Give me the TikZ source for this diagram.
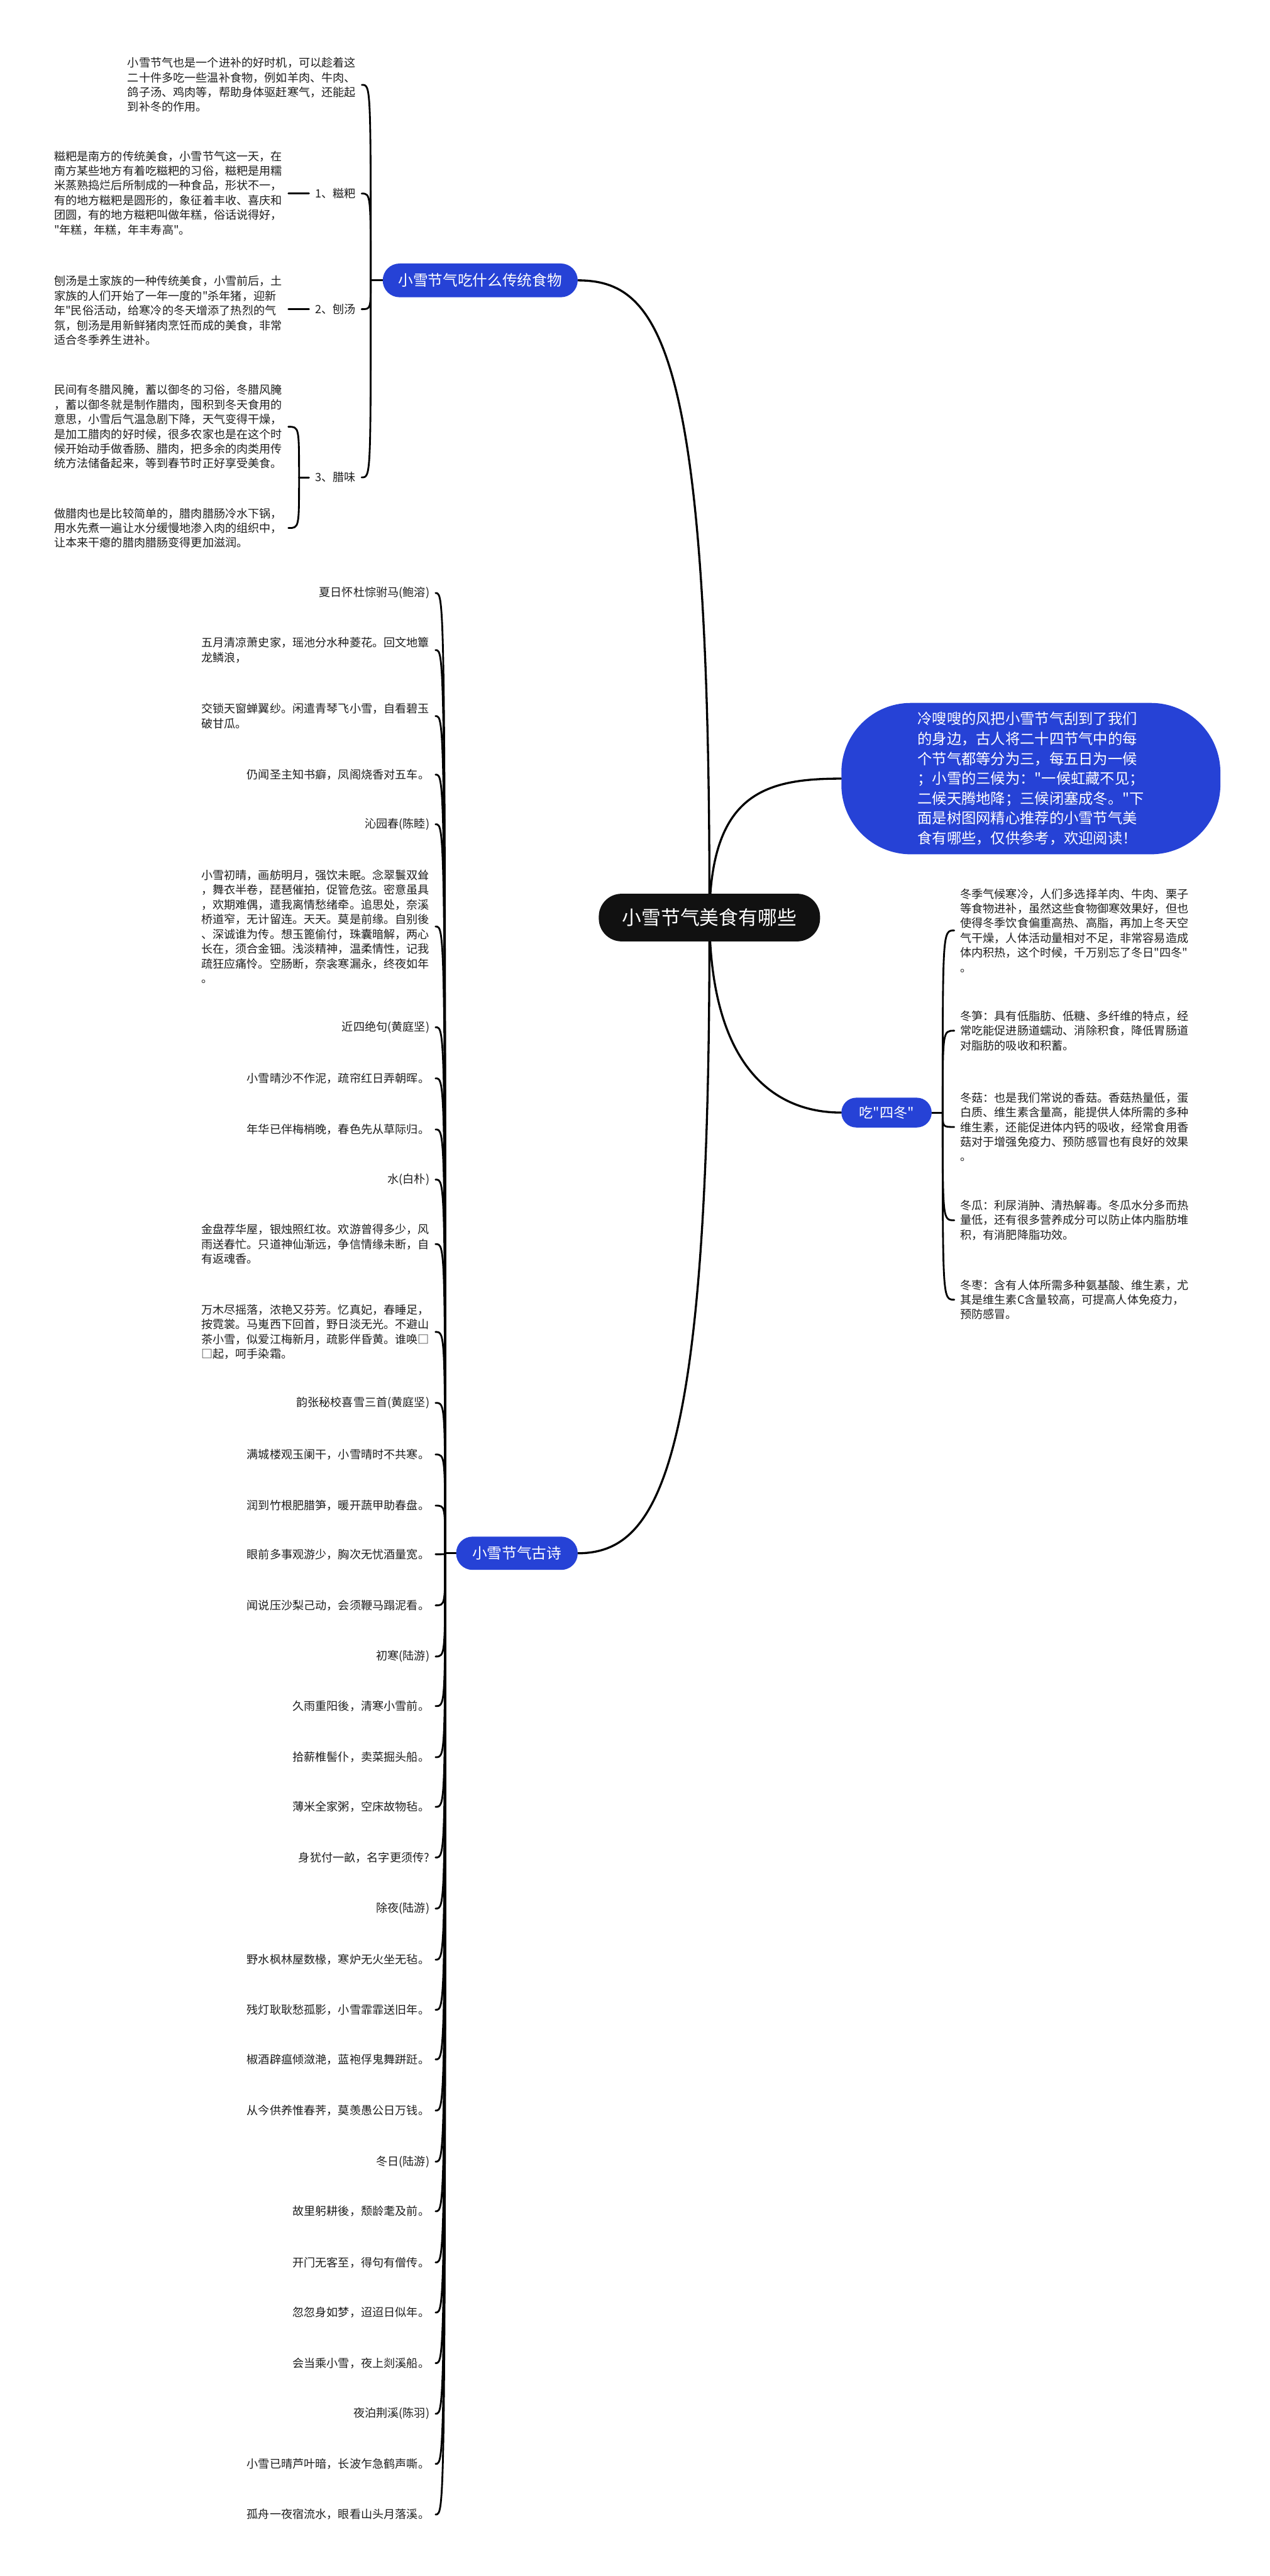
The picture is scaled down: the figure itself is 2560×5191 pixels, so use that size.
\documentclass[tikz,border=0pt]{standalone}
\usepackage{fontspec}
\newfontfamily\cjkfont{Noto Sans CJK SC}
\usetikzlibrary{backgrounds}
\definecolor{myblue}{RGB}{38,66,214}
\definecolor{rootblack}{RGB}{17,17,17}
\definecolor{textc}{RGB}{30,30,30}
\tikzset{
  conn/.style={line width=3.6pt, black, line cap=round},
  rconn/.style={line width=4.2pt, black, line cap=round},
  leaf/.style={inner xsep=12pt, inner ysep=0pt, align=left, text=textc,
    font=\cjkfont\fontsize{23}{29.7}\selectfont},
  pillbox/.style={fill=myblue, text=white, inner sep=0pt,
    font=\cjkfont\fontsize{30}{36}\selectfont},
}
\begin{document}
\begin{tikzpicture}[x=1pt,y=-1pt]
\useasboundingbox (0,0) rectangle (2560,5191);

% ---------- root and main branches ----------
\node[fill=rootblack, text=white, inner sep=0pt, minimum width=446pt, minimum height=96pt,
  rounded corners=46pt, font=\cjkfont\fontsize{39}{44}\selectfont] (root) at (1430,1849) {小雪节气美食有哪些};

\node[pillbox, minimum width=393pt, minimum height=68pt, rounded corners=34pt] (b1) at (968,565) {小雪节气吃什么传统食物};

\node[fill=myblue, text=white, inner sep=0pt, minimum width=764pt, minimum height=305pt,
  rounded corners=140pt, align=left, font=\cjkfont\fontsize{29.5}{40}\selectfont] (b2) at (2078,1569)
  {冷嗖嗖的风把小雪节气刮到了我们\\的身边，古人将二十四节气中的每\\个节气都等分为三，每五日为一候\\；小雪的三候为："一候虹藏不见；\\二候天腾地降；三候闭塞成冬。"下\\面是树图网精心推荐的小雪节气美\\食有哪些，仅供参考，欢迎阅读！};

\node[pillbox, minimum width=182pt, minimum height=60pt, rounded corners=30pt,
  font=\cjkfont\fontsize{28}{34}\selectfont] (b3) at (1787,2242) {吃"四冬"};

\node[pillbox, minimum width=245pt, minimum height=67pt, rounded corners=33pt] (b4) at (1042,3130) {小雪节气古诗};

% ---------- branch 1 children ----------
\node[leaf, anchor=west] (pa) at (245,171) {小雪节气也是一个进补的好时机，可以趁着这\\二十件多吃一些温补食物，例如羊肉、牛肉、\\鸽子汤、鸡肉等，帮助身体驱赶寒气，还能起\\到补冬的作用。};
\node[leaf, anchor=east] (l1) at (729,390) {1、糍粑};
\node[leaf, anchor=east] (l2) at (729,623) {2、刨汤};
\node[leaf, anchor=east] (l3) at (729,962) {3、腊味};

\node[leaf, anchor=west] (z1) at (97,389) {糍粑是南方的传统美食，小雪节气这一天，在\\南方某些地方有着吃糍粑的习俗，糍粑是用糯\\米蒸熟捣烂后所制成的一种食品，形状不一，\\有的地方糍粑是圆形的，象征着丰收、喜庆和\\团圆，有的地方糍粑叫做年糕，俗话说得好，\\"年糕，年糕，年丰寿高"。};
\node[leaf, anchor=west] (z2) at (97,626) {刨汤是土家族的一种传统美食，小雪前后，土\\家族的人们开始了一年一度的"杀年猪，迎新\\年"民俗活动，给寒冷的冬天增添了热烈的气\\氛，刨汤是用新鲜猪肉烹饪而成的美食，非常\\适合冬季养生进补。};
\node[leaf, anchor=west] (z3) at (97,860) {民间有冬腊风腌，蓄以御冬的习俗，冬腊风腌\\，蓄以御冬就是制作腊肉，囤积到冬天食用的\\意思，小雪后气温急剧下降，天气变得干燥，\\是加工腊肉的好时候，很多农家也是在这个时\\候开始动手做香肠、腊肉，把多余的肉类用传\\统方法储备起来，等到春节时正好享受美食。};
\node[leaf, anchor=west] (z4) at (97,1064) {做腊肉也是比较简单的，腊肉腊肠冷水下锅，\\用水先煮一遍让水分缓慢地渗入肉的组织中，\\让本来干瘪的腊肉腊肠变得更加滋润。};

% ---------- 四冬 children ----------
\node[leaf, anchor=west] (d1) at (1923.5,1875) {冬季气候寒冷，人们多选择羊肉、牛肉、栗子\\等食物进补，虽然这些食物御寒效果好，但也\\使得冬季饮食偏重高热、高脂，再加上冬天空\\气干燥，人体活动量相对不足，非常容易造成\\体内积热，这个时候，千万别忘了冬日"四冬"\\。};
\node[leaf, anchor=west] (d2) at (1923.5,2077) {冬笋：具有低脂肪、低糖、多纤维的特点，经\\常吃能促进肠道蠕动、消除积食，降低胃肠道\\对脂肪的吸收和积蓄。};
\node[leaf, anchor=west] (d3) at (1923.5,2271) {冬菇：也是我们常说的香菇。香菇热量低，蛋\\白质、维生素含量高，能提供人体所需的多种\\维生素，还能促进体内钙的吸收，经常食用香\\菇对于增强免疫力、预防感冒也有良好的效果\\。};
\node[leaf, anchor=west] (d4) at (1923.5,2459) {冬瓜：利尿消肿、清热解毒。冬瓜水分多而热\\量低，还有很多营养成分可以防止体内脂肪堆\\积，有消肥降脂功效。};
\node[leaf, anchor=west] (d5) at (1923.5,2619) {冬枣：含有人体所需多种氨基酸、维生素，尤\\其是维生素C含量较高，可提高人体免疫力，\\预防感冒。};

% ---------- poems ----------
\node[leaf, anchor=east] (p1) at (878,1195) {夏日怀杜悰驸马(鲍溶)};
\node[leaf, anchor=west] (p2) at (393.5,1310) {五月清凉萧史家，瑶池分水种菱花。回文地簟\\龙鳞浪，};
\node[leaf, anchor=west] (p3) at (393.5,1443) {交锁天窗蝉翼纱。闲遣青琴飞小雪，自看碧玉\\破甘瓜。};
\node[leaf, anchor=east] (p4) at (878,1561) {仍闻圣主知书癖，凤阁烧香对五车。};
\node[leaf, anchor=east] (p5) at (878,1661) {沁园春(陈睦)};
\node[leaf, anchor=west] (p6) at (393.5,1867) {小雪初晴，画舫明月，强饮未眠。念翠鬟双耸\\，舞衣半卷，琵琶催拍，促管危弦。密意虽具\\，欢期难偶，遣我离情愁绪牵。追思处，奈溪\\桥道窄，无计留连。天天。莫是前缘。自别後\\、深诚谁为传。想玉篦偷付，珠囊暗解，两心\\长在，须合金钿。浅淡精神，温柔情性，记我\\疏狂应痛怜。空肠断，奈衾寒漏永，终夜如年\\。};
\node[leaf, anchor=east] (p7) at (878,2070) {近四绝句(黄庭坚)};
\node[leaf, anchor=east] (p8) at (878,2173) {小雪晴沙不作泥，疏帘红日弄朝晖。};
\node[leaf, anchor=east] (p9) at (878,2276) {年华已伴梅梢晚，春色先从草际归。};
\node[leaf, anchor=east] (p10) at (878,2377) {水(白朴)};
\node[leaf, anchor=west] (p11) at (393.5,2507) {金盘荐华屋，银烛照红妆。欢游曾得多少，风\\雨送春忙。只道神仙渐远，争信情缘未断，自\\有返魂香。};
\node[leaf, anchor=west] (p12) at (393.5,2684) {万木尽摇落，浓艳又芬芳。忆真妃，春睡足，\\按霓裳。马嵬西下回首，野日淡无光。不避山\\茶小雪，似爱江梅新月，疏影伴昏黄。谁唤□\\□起，呵手染霜。};
\node[leaf, anchor=east] (p13) at (878,2827) {韵张秘校喜雪三首(黄庭坚)};
\node[leaf, anchor=east] (p14) at (878,2931) {满城楼观玉阑干，小雪晴时不共寒。};
\node[leaf, anchor=east] (p15) at (878,3034) {润到竹根肥腊笋，暖开蔬甲助春盘。};
\node[leaf, anchor=east] (p16) at (878,3132) {眼前多事观游少，胸次无忧酒量宽。};
\node[leaf, anchor=east] (p17) at (878,3235) {闻说压沙梨己动，会须鞭马蹋泥看。};
\node[leaf, anchor=east] (p18) at (878,3338) {初寒(陆游)};
\node[leaf, anchor=east] (p19) at (878,3438) {久雨重阳後，清寒小雪前。};
\node[leaf, anchor=east] (p20) at (878,3541) {拾薪椎髻仆，卖菜掘头船。};
\node[leaf, anchor=east] (p21) at (878,3641) {薄米全家粥，空床故物毡。};
\node[leaf, anchor=east] (p22) at (878,3743) {身犹付一畝，名字更须传?};
\node[leaf, anchor=east] (p23) at (878,3846) {除夜(陆游)};
\node[leaf, anchor=east] (p24) at (878,3949) {野水枫林屋数椽，寒炉无火坐无毡。};
\node[leaf, anchor=east] (p25) at (878,4050) {残灯耿耿愁孤影，小雪霏霏送旧年。};
\node[leaf, anchor=east] (p26) at (878,4150) {椒酒辟瘟倾潋滟，蓝袍俘鬼舞跰跹。};
\node[leaf, anchor=east] (p27) at (878,4253) {从今供养惟春荠，莫羡愚公日万钱。};
\node[leaf, anchor=east] (p28) at (878,4356) {冬日(陆游)};
\node[leaf, anchor=east] (p29) at (878,4456) {故里躬耕後，颓龄耄及前。};
\node[leaf, anchor=east] (p30) at (878,4559) {开门无客至，得句有僧传。};
\node[leaf, anchor=east] (p31) at (878,4660) {忽忽身如梦，迢迢日似年。};
\node[leaf, anchor=east] (p32) at (878,4762) {会当乘小雪，夜上剡溪船。};
\node[leaf, anchor=east] (p33) at (878,4864) {夜泊荆溪(陈羽)};
\node[leaf, anchor=east] (p34) at (878,4965) {小雪已晴芦叶暗，长波乍急鹤声嘶。};
\node[leaf, anchor=east] (p35) at (878,5067) {孤舟一夜宿流水，眼看山头月落溪。};

% ---------- connectors (behind) ----------
\begin{scope}[on background layer]
\fill[white] (0,0) rectangle (2560,5191);
% root to branches
\draw[rconn] (root.center) .. controls (1432,700) and (1330,565) .. (b1.east);
\draw[rconn] (root.center) .. controls (1432,1600) and (1540,1569) .. (b2.west);
\draw[rconn] (root.center) .. controls (1432,2150) and (1560,2242) .. (b3.west);
\draw[rconn] (root.center) .. controls (1432,2950) and (1330,3130) .. (b4.east);
% branch 1
\draw[conn] (b1.west) -- ++(-24,0) coordinate (h1);
\foreach \n in {pa,l1,l2,l3}
  \draw[conn] (h1) .. controls (h1 |- \n.east) .. (\n.east);
\draw[conn] (l1.west) -- (l1.west -| z1.east);
\draw[conn] (l2.west) -- (l2.west -| z2.east);
\draw[conn] (l3.west) -- ++(-20,0) coordinate (h5);
\foreach \n in {z3,z4}
  \draw[conn] (h5) .. controls (h5 |- \n.east) .. (\n.east);
% 四冬
\draw[conn] (b3.east) -- ++(22,0) coordinate (h3);
\foreach \n in {d1,d2,d3,d4,d5}
  \draw[conn] (h3) .. controls (h3 |- \n.west) .. (\n.west);
% poems
\draw[conn] (b4.west) -- ++(-22,0) coordinate (h4);
\foreach \i in {1,...,35}
  \draw[conn] (h4) .. controls (h4 |- p\i.east) .. (p\i.east);
\end{scope}
\end{tikzpicture}
\end{document}
